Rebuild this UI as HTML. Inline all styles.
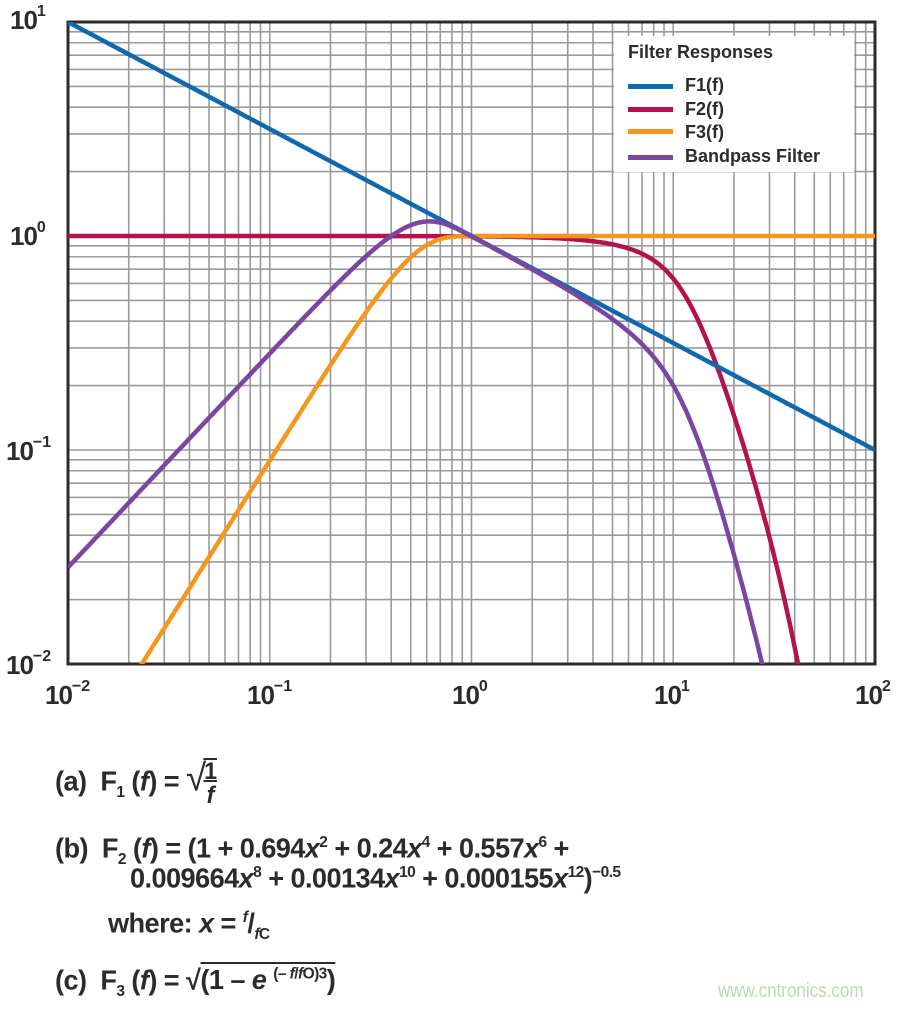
<!DOCTYPE html>
<html><head><meta charset="utf-8"><style>
body{margin:0;background:#fff;width:900px;height:1006px;overflow:hidden;position:relative;font-family:"Liberation Sans",sans-serif;color:#2b2b2b}
.l{position:absolute;font-weight:bold;font-size:26px;letter-spacing:-1px;white-space:nowrap}
.l sup{font-size:16px;position:relative;top:-3px;letter-spacing:0}
.f{position:absolute;font-weight:bold;font-size:28px;line-height:34px;white-space:nowrap;transform-origin:left center;transform:scaleX(0.97);letter-spacing:-0.6px}
.f sup{font-size:16px}
.f sub{font-size:16px}
</style></head><body>
<svg id="s" width="900" height="1006" style="position:absolute;left:0;top:0"></svg>
<div class="l" style="left:10px;top:5px">10<sup>1</sup></div>
<div class="l" style="left:10px;top:221px">10<sup>0</sup></div>
<div class="l" style="left:6px;top:436px">10<sup>−1</sup></div>
<div class="l" style="left:6px;top:650px">10<sup>−2</sup></div>
<div class="l" style="left:45px;top:680px">10<sup>−2</sup></div>
<div class="l" style="left:247px;top:680px">10<sup>−1</sup></div>
<div class="l" style="left:452px;top:680px">10<sup>0</sup></div>
<div class="l" style="left:654px;top:680px">10<sup>1</sup></div>
<div class="l" style="left:855px;top:680px">10<sup>2</sup></div>
<div style="position:absolute;left:614px;top:36px;width:240px;height:136px;background:#fff"></div>
<div style="position:absolute;left:628px;top:42px;font-weight:bold;font-size:18px">Filter Responses</div>
<div style="position:absolute;left:628px;top:84px;width:45px;height:5px;background:#0e6aad"></div>
<div style="position:absolute;left:628px;top:107px;width:45px;height:5px;background:#b3124d"></div>
<div style="position:absolute;left:628px;top:129px;width:45px;height:5px;background:#f5961e"></div>
<div style="position:absolute;left:628px;top:155px;width:45px;height:5px;background:#7c45a0"></div>
<div style="position:absolute;left:685px;top:74px;font-weight:bold;font-size:18px;line-height:23.5px">F1(f)<br>F2(f)<br>F3(f)<br>Bandpass Filter</div>

<div class="f" style="left:55px;top:758px">(a)&nbsp; F<sub>1</sub> (<i>f</i>) = <span style="font-size:38px;font-weight:normal">√</span><span style="display:inline-block;vertical-align:middle;text-align:center;border-top:2px solid #2b2b2b;line-height:24px;font-size:24px;margin-left:-2px">1<br><span style="border-top:2px solid #2b2b2b;padding:0 3px"><i>f</i></span></span></div>
<div class="f" style="left:55px;top:826px">(b)&nbsp; F<sub>2</sub> (<i>f</i>) = (1 + 0.694<i>x</i><sup>2</sup> + 0.24<i>x</i><sup>4</sup> + 0.557<i>x</i><sup>6</sup> +</div>
<div class="f" style="left:130px;top:856px">0.009664<i>x</i><sup>8</sup> + 0.00134<i>x</i><sup>10</sup> + 0.000155<i>x</i><sup>12</sup>)<sup>−0.5</sup></div>
<div class="f" style="left:108px;top:901px">where: <i>x</i> = <sup><i>f</i></sup>/<sub><i>f</i>C</sub></div>
<div class="f" style="left:55px;top:958px">(c)&nbsp; F<sub>3</sub> (<i>f</i>) = √<span style="border-top:2px solid #2b2b2b">(1 – <i>e</i> <sup>(– <i>f</i>/<i>f</i>O)3</sup>)</span></div>
<div style="position:absolute;left:718px;top:980px;font-size:20px;color:#b8dcb0;transform:scaleX(0.85);transform-origin:left">www.cntronics.com</div>
<script>
var s=document.getElementById('s'),L=68,R=875,T=22,B=664;
function X(f){return L+(Math.log10(f)+2)*(R-L)/4}
function Y(v){return T+(1-Math.log10(v))*(B-T)/3}
var h='';
for(var d=-2;d<2;d++)for(var k=1;k<10;k++){var x=X(k*Math.pow(10,d));h+='<line x1="'+x+'" y1="'+T+'" x2="'+x+'" y2="'+B+'" stroke="#9a9a9a" stroke-width="1.6"/>';}
for(var d=-2;d<1;d++)for(var k=1;k<10;k++){var y=Y(k*Math.pow(10,d));h+='<line x1="'+L+'" y1="'+y+'" x2="'+R+'" y2="'+y+'" stroke="#9a9a9a" stroke-width="1.6"/>';}
h+='<rect x="'+L+'" y="'+T+'" width="'+(R-L)+'" height="'+(B-T)+'" fill="none" stroke="#2b2b2b" stroke-width="3"/>';
function F1(f){return 1/Math.sqrt(f)}
function F2(f){var x=f/10;return Math.pow(1+.694*x*x+.24*Math.pow(x,4)+.557*Math.pow(x,6)+.009664*Math.pow(x,8)+.00134*Math.pow(x,10)+.000155*Math.pow(x,12),-.5)}
function F3(f){return Math.sqrt(1-Math.exp(-Math.pow(f/.5,3)))}
function BP(f){return F1(f)*F2(f)*F3(f)}
function path(fn,c){var p='';for(var i=0;i<=800;i++){var f=Math.pow(10,-2+4*i/800),v=fn(f);if(v<0.0085)v=0.0085;p+=(i?'L':'M')+X(f).toFixed(1)+' '+Y(v).toFixed(1);}return '<path d="'+p+'" fill="none" stroke="'+c+'" stroke-width="4.5"/>';}
h+='<clipPath id="c"><rect x="'+L+'" y="'+T+'" width="'+(R-L)+'" height="'+(B-T)+'"/></clipPath><g clip-path="url(#c)">';
h+=path(F2,'#b3124d')+path(F3,'#f5961e')+path(F1,'#0e6aad')+path(BP,'#7c45a0')+'</g>';
s.innerHTML=h;
</script>
</body></html>
